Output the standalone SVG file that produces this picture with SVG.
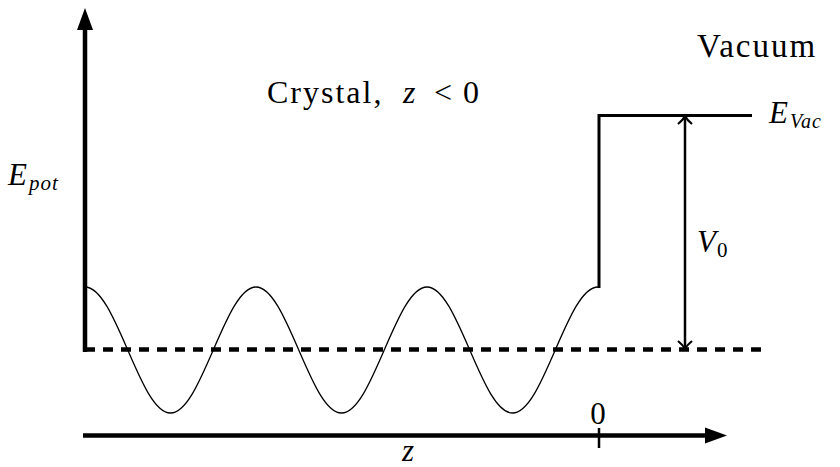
<svg xmlns="http://www.w3.org/2000/svg" width="840" height="467" viewBox="0 0 840 467">
<style>
text { font-family: "Liberation Serif", "Times New Roman", serif; fill: #000; }
.m { font-style: italic; }
.axis { stroke: #000; stroke-width: 4.5; fill: none; }
.thick { stroke: #000; stroke-width: 3; fill: none; }
.thin { stroke: #000; stroke-width: 1.3; fill: none; }
</style>
<rect width="840" height="467" fill="#fff"/>
<g id="connectors">
  <!-- energy axis -->
  <line class="axis" x1="85" y1="352" x2="85" y2="26"/>
  <polygon points="85,8 77,30 93,30" fill="#000"/>
  <!-- z axis -->
  <line class="axis" x1="83" y1="435.5" x2="710" y2="435.5"/>
  <polygon points="727,435.5 705,427.5 705,443.5" fill="#000"/>
  <line x1="599" y1="428" x2="599" y2="448" stroke="#000" stroke-width="2.5"/>
  <!-- dashed reference level -->
  <line x1="85" y1="349.5" x2="765" y2="349.5" stroke="#000" stroke-width="4.5" stroke-dasharray="10 8"/>
  <!-- periodic potential -->
  <path class="thin" d="M85,287
    c 15.47,0 28.81,30.73 42.75,63 c 13.94,32.27 27.28,63 42.75,63 c 15.47,0 28.81,-30.73 42.75,-63 c 13.94,-32.27 27.28,-63 42.75,-63
    c 15.47,0 28.81,30.73 42.75,63 c 13.94,32.27 27.28,63 42.75,63 c 15.47,0 28.81,-30.73 42.75,-63 c 13.94,-32.27 27.28,-63 42.75,-63
    c 15.47,0 28.81,30.73 42.75,63 c 13.94,32.27 27.28,63 42.75,63 c 15.47,0 28.81,-30.73 42.75,-63 c 13.94,-32.27 27.28,-63 42.75,-63"/>
  <!-- surface step -->
  <path class="thick" d="M599,288 V115.5 H752"/>
  <!-- V0 double arrow -->
  <line x1="685" y1="116" x2="685" y2="349" stroke="#000" stroke-width="2.5"/>
  <path d="M678,124 Q683,120 685,116 Q687,120 692,124" stroke="#000" stroke-width="2.2" fill="none"/>
  <path d="M678,341 Q683,345 685,349 Q687,345 692,341" stroke="#000" stroke-width="2.2" fill="none"/>
</g>
<g id="labels">
  <text x="267" y="103" font-size="32" letter-spacing="2">Crystal,</text>
  <text x="403" y="103" font-size="32" class="m">z</text>
  <text x="434" y="103" font-size="32">&lt;</text>
  <text x="463" y="103" font-size="32">0</text>
  <text x="697" y="57" font-size="33" letter-spacing="2">Vacuum</text>
  <text x="8" y="185" font-size="31" class="m" letter-spacing="2">E<tspan font-size="21" dy="5" letter-spacing="1">pot</tspan></text>
  <text x="769" y="123" font-size="31" class="m" letter-spacing="2">E<tspan font-size="20" dy="5" letter-spacing="1">Vac</tspan></text>
  <text x="697" y="252" font-size="31" class="m">V<tspan font-size="21" dy="5" font-style="normal" dx="1">0</tspan></text>
  <text x="598" y="424" font-size="31" text-anchor="middle">0</text>
  <text x="408" y="461" font-size="31" class="m" text-anchor="middle">z</text>
</g>
</svg>
